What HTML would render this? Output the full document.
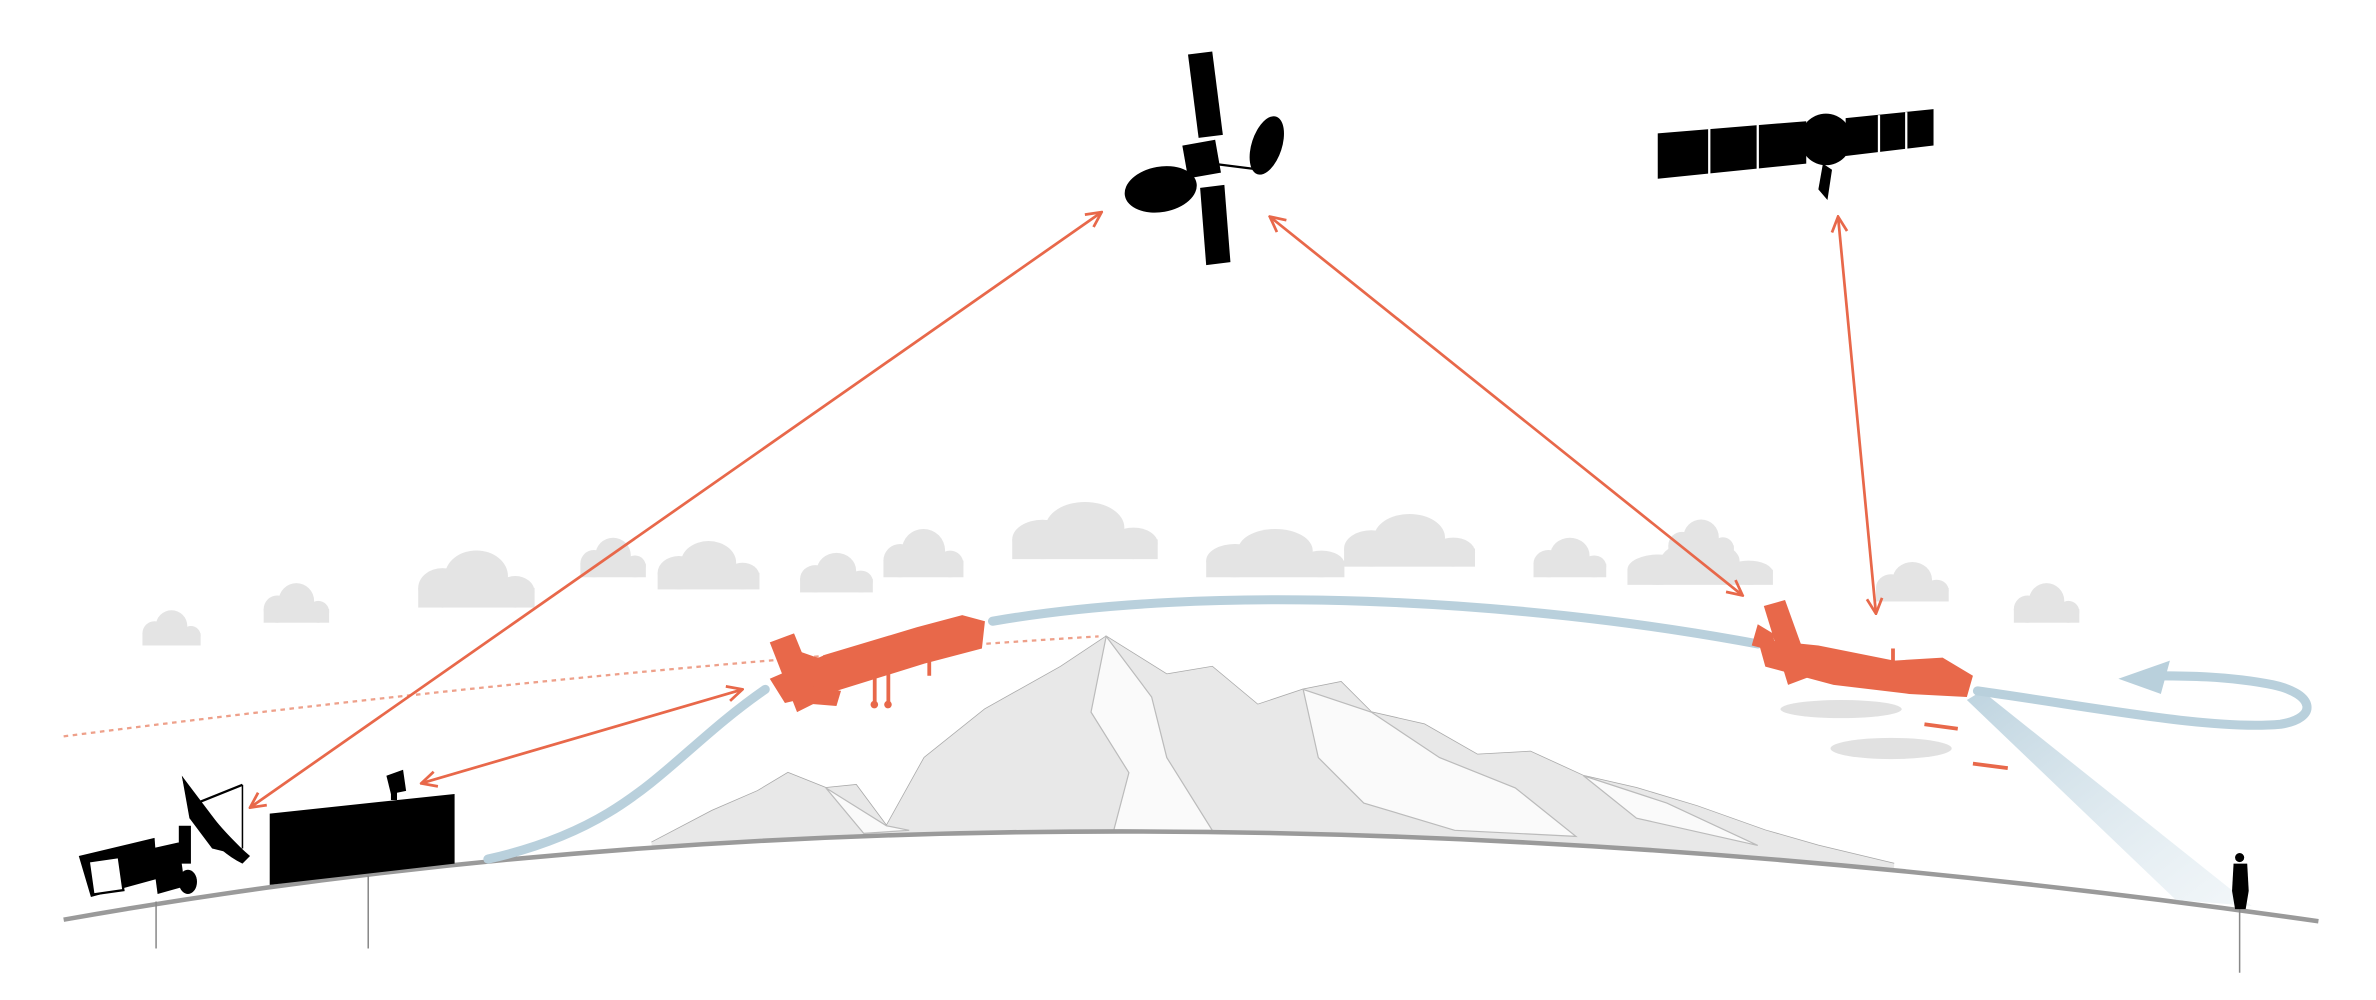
<!DOCTYPE html>
<html><head><meta charset="utf-8"><style>html,body{margin:0;padding:0;background:#fff}svg{display:block}</style></head>
<body>
<svg width="2376" height="1000" viewBox="0 0 1568 660" preserveAspectRatio="none" xmlns="http://www.w3.org/2000/svg">
<defs>
<marker id="ah" viewBox="0 0 12 12" refX="11" refY="6" markerWidth="12" markerHeight="12" markerUnits="userSpaceOnUse" orient="auto-start-reverse">
<path d="M1,1 L11,6 L1,11" fill="none" stroke="#e8684a" stroke-width="1.8"/>
</marker>
<linearGradient id="beam" x1="0" y1="0" x2="1" y2="1">
<stop offset="0" stop-color="#b7cfdc" stop-opacity="0.9"/><stop offset="1" stop-color="#dfeaf0" stop-opacity="0.4"/>
</linearGradient>
<g id="cl"><circle cx="0" cy="0" r="10"/><circle cx="14" cy="-6" r="13"/><circle cx="30" cy="2" r="8"/><rect x="-10" y="0" width="48" height="10"/></g>
</defs>
<rect width="1568" height="660" fill="#fff"/>
<g fill="#e4e4e4">
<use href="#cl" transform="translate(102,418) scale(0.8)"/>
<use href="#cl" transform="translate(183,402) scale(0.9)"/>
<use href="#cl" transform="translate(292,388) scale(1.6,1.3)"/>
<use href="#cl" transform="translate(392,372) scale(0.9)"/>
<use href="#cl" transform="translate(448,378) scale(1.4,1.1)"/>
<use href="#cl" transform="translate(538,382) scale(1,0.9)"/>
<use href="#cl" transform="translate(594,370) scale(1.1)"/>
<use href="#cl" transform="translate(688,356) scale(2,1.3)"/>
<use href="#cl" transform="translate(815,370) scale(1.9,1.1)"/>
<use href="#cl" transform="translate(905,362) scale(1.8,1.2)"/>
<use href="#cl" transform="translate(1022,372) scale(1,0.9)"/>
<use href="#cl" transform="translate(1094,376) scale(2,1)"/>
<use href="#cl" transform="translate(1110,360) scale(0.9)"/>
<use href="#cl" transform="translate(1248,388) scale(1,0.9)"/>
<use href="#cl" transform="translate(1338,402) scale(0.9)"/>
</g>
<path d="M42,486 Q400,440 725,420" fill="none" stroke="#eea08a" stroke-width="1.5" stroke-dasharray="3,3"/>
<path d="M430,556 L470,535 L500,522 L520,510 L545,520 L565,518 L585,545 L610,500 L650,468 L700,440 L730,420 L770,445 L800,440 L830,465 L860,455 L885,450 L905,470 L940,478 L975,498 L1010,496 L1045,512 L1080,520 L1120,532 L1165,548 L1200,558 L1250,570" fill="#e8e8e8" stroke="#a8a8a8" stroke-width="1"/>
<path d="M430,556 L470,535 L500,522 L520,510 L545,520 L565,518 L585,545 L610,500 L650,468 L700,440 L730,420 L770,445 L800,440 L830,465 L860,455 L885,450 L905,470 L940,478 L975,498 L1010,496 L1045,512 L1080,520 L1120,532 L1165,548 L1200,558 L1250,570 L1250,580 L430,580 Z" fill="#e8e8e8"/>
<path d="M730,420 L720,470 L745,510 L735,548 L800,548 L770,500 L760,460 Z M860,455 L870,500 L900,530 L960,548 L1040,552 L1000,520 L950,500 L905,470 Z M545,520 L570,550 L600,548 L585,545 Z M1045,512 L1080,540 L1160,558 L1100,530 Z" fill="#fafafa" stroke="#bbb" stroke-width="0.8"/>
<path d="M42,607 Q700,490 1530,608 L1530,660 L42,660 Z" fill="#fff"/>
<path d="M42,607 Q700,490 1530,608" fill="none" stroke="#9a9a9a" stroke-width="3"/>
<line x1="103" y1="595" x2="103" y2="626" stroke="#888" stroke-width="1"/>
<line x1="243" y1="578" x2="243" y2="626" stroke="#888" stroke-width="1"/>
<line x1="1478" y1="600" x2="1478" y2="642" stroke="#888" stroke-width="1"/>
<polygon points="1298,462 1308,456 1486,598 1436,594" fill="url(#beam)"/>
<g fill="none" stroke="#b9d0dc" stroke-width="6" stroke-linecap="round">
<path d="M322,567 C420,545 440,500 505,455"/>
<path d="M655,410 C800,385 1000,395 1160,425"/>
<path d="M1305,456 C1390,468 1460,482 1505,478 C1530,474 1528,458 1500,452 C1470,446 1440,446 1420,446"/>
</g>
<polygon points="1398,448 1432,436 1426,458" fill="#b9d0dc"/>
<g stroke="#e8684a" stroke-width="1.8" fill="none" marker-start="url(#ah)" marker-end="url(#ah)">
<line x1="165" y1="533" x2="727" y2="140"/>
<line x1="278" y1="517" x2="490" y2="455"/>
<line x1="838" y1="143" x2="1150" y2="393"/>
<line x1="1213" y1="143" x2="1238" y2="405"/>
</g>
<g fill="#000">
<polygon points="784,36 800,34 807,89 791,91"/>
<polygon points="792,124 808,122 812,173 796,175"/>
<rect x="782" y="94" width="22" height="22" transform="rotate(-10 793 105)"/>
<ellipse cx="766" cy="125" rx="24" ry="15" transform="rotate(-10 766 125)"/>
<ellipse cx="836" cy="96" rx="10" ry="20" transform="rotate(18 836 96)"/>
<line x1="800" y1="108" x2="832" y2="112" stroke="#000" stroke-width="1.5"/>
</g>
<g fill="#000">
<polygon points="1094,88 1192,80 1192,108 1094,118"/>
<polygon points="1218,78 1276,72 1276,96 1218,103"/>
<circle cx="1205" cy="92" r="17"/>
<path d="M1203,108 L1200,125 L1206,132 L1209,112 Z"/>
</g>
<g stroke="#fff" stroke-width="1.5"><line x1="1128" y1="84" x2="1128" y2="116"/><line x1="1160" y1="82" x2="1160" y2="112"/><line x1="1240" y1="76" x2="1240" y2="101"/><line x1="1258" y1="74" x2="1258" y2="99"/></g>
<!-- drone 1 -->
<g fill="#e8684a">
<path d="M508,448 L545,432 L605,414 L635,406 L650,410 L648,428 L610,438 L552,456 L518,464 Z"/>
<polygon points="508,424 524,418 542,462 526,470"/>
<polygon points="545,436 522,428 520,440 540,448"/>
<polygon points="530,452 555,456 552,466 528,464"/>
<rect x="576" y="440" width="2.5" height="24"/><rect x="585" y="438" width="2.5" height="26"/><rect x="612" y="428" width="2.5" height="18"/>
<circle cx="577" cy="465" r="2.5"/><circle cx="586" cy="465" r="2.5"/>
</g>
<!-- drone 2 -->
<g fill="#e8684a">
<path d="M1160,422 L1200,426 L1250,436 L1282,434 L1302,446 L1298,460 L1260,458 L1210,452 L1165,440 Z"/>
<polygon points="1164,400 1178,396 1196,446 1180,452"/>
<polygon points="1170,418 1160,412 1156,426 1172,430"/>
<rect x="1248" y="428" width="2.5" height="10"/>
</g>
<g fill="#dcdcdc" opacity="0.85">
<ellipse cx="1215" cy="468" rx="40" ry="6"/>
<ellipse cx="1248" cy="494" rx="40" ry="7"/>
</g>
<line x1="1270" y1="478" x2="1292" y2="481" stroke="#e8684a" stroke-width="2.5"/>
<line x1="1302" y1="504" x2="1325" y2="507" stroke="#e8684a" stroke-width="2.5"/>
<g fill="#000">
<polygon points="52,565 102,553 104,580 60,592"/>
<rect x="60" y="567" width="20" height="22" fill="#fff" stroke="#000" stroke-width="1.5" transform="rotate(-8 70 578)"/>
<polygon points="100,560 118,556 122,585 104,590"/>
<ellipse cx="124" cy="582" rx="6" ry="8"/>
<path d="M120,512 C125,540 140,560 160,570 L165,565 C148,550 132,530 120,512 Z"/>
<path d="M120,512 L160,565 L140,560 L125,540 Z"/>
<line x1="130" y1="530" x2="160" y2="518" stroke="#000" stroke-width="1.5"/>
<line x1="160" y1="518" x2="160" y2="560" stroke="#000" stroke-width="1"/>
<rect x="118" y="545" width="8" height="25"/>
<polygon points="178,537 300,524 300,570 178,584"/>
<rect x="258" y="518" width="4" height="10"/>
<polygon points="255,512 266,508 268,522 258,524"/>
</g>
<g fill="#000">
<circle cx="1478" cy="566" r="3"/>
<path d="M1474,570 L1483,570 L1484,588 L1482,600 L1475,600 L1473,588 Z"/>
</g>
</svg>
</body></html>
